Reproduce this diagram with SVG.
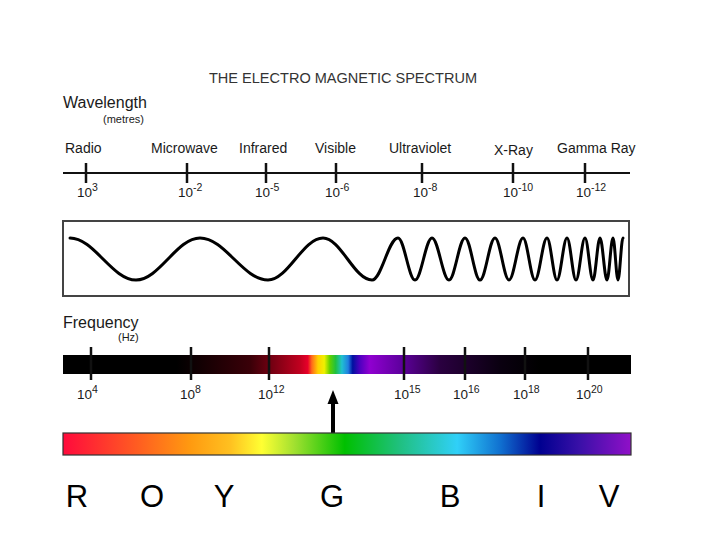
<svg xmlns="http://www.w3.org/2000/svg" width="720" height="540" viewBox="0 0 720 540">
<defs>
<style>
text{font-family:"Liberation Sans",Arial,sans-serif;fill:#1a1a1a}
.lbl{font-size:14px}
.val{font-size:13.5px}
.sup{font-size:10.5px}
.big{font-size:16px}
.small{font-size:11px}
.tick{stroke:#111;stroke-width:2.5}
.letter{font-size:31px;text-anchor:middle;fill:#000}
</style>
<linearGradient id="freqGrad" x1="63" y1="0" x2="631" y2="0" gradientUnits="userSpaceOnUse">
<stop offset="0" stop-color="#000"/>
<stop offset="0.2" stop-color="#000"/>
<stop offset="0.33" stop-color="#3a0008"/>
<stop offset="0.417" stop-color="#c0001f"/>
<stop offset="0.431" stop-color="#e8002a"/>
<stop offset="0.438" stop-color="#ff6a1a"/>
<stop offset="0.449" stop-color="#ffd000"/>
<stop offset="0.46" stop-color="#f0f000"/>
<stop offset="0.47" stop-color="#60d000"/>
<stop offset="0.48" stop-color="#20c040"/>
<stop offset="0.491" stop-color="#20c0d0"/>
<stop offset="0.502" stop-color="#2080e0"/>
<stop offset="0.51" stop-color="#0010a0"/>
<stop offset="0.523" stop-color="#5000c0"/>
<stop offset="0.54" stop-color="#9000d0"/>
<stop offset="0.593" stop-color="#6000a0"/>
<stop offset="0.664" stop-color="#2a0040"/>
<stop offset="0.77" stop-color="#0a0010"/>
<stop offset="0.84" stop-color="#000"/>
<stop offset="1" stop-color="#000"/>
</linearGradient>
<linearGradient id="rainbow" x1="63" y1="0" x2="631" y2="0" gradientUnits="userSpaceOnUse">
<stop offset="0" stop-color="#ff0a3c"/>
<stop offset="0.136" stop-color="#ff6020"/>
<stop offset="0.224" stop-color="#ff9a10"/>
<stop offset="0.294" stop-color="#ffc020"/>
<stop offset="0.35" stop-color="#ffff33"/>
<stop offset="0.408" stop-color="#a0e030"/>
<stop offset="0.496" stop-color="#00c000"/>
<stop offset="0.593" stop-color="#20c080"/>
<stop offset="0.694" stop-color="#30d0f8"/>
<stop offset="0.77" stop-color="#1070d0"/>
<stop offset="0.84" stop-color="#000090"/>
<stop offset="0.91" stop-color="#3a10a8"/>
<stop offset="1" stop-color="#9010c8"/>
</linearGradient>
</defs>
<rect width="720" height="540" fill="#fff"/>

<g id="title">
<text x="209" y="83" font-size="15" textLength="268" lengthAdjust="spacingAndGlyphs" style="fill:#333">THE ELECTRO MAGNETIC SPECTRUM</text>
</g>

<g id="wavelength-axis">
<text class="big" x="63" y="108">Wavelength</text>
<text class="small" x="103" y="123">(metres)</text>
<line x1="63" y1="173" x2="630" y2="173" stroke="#111" stroke-width="2"/>
<line class="tick" x1="86" y1="163" x2="86" y2="183"/>
<line class="tick" x1="187" y1="163" x2="187" y2="183"/>
<line class="tick" x1="266" y1="163" x2="266" y2="183"/>
<line class="tick" x1="336" y1="163" x2="336" y2="183"/>
<line class="tick" x1="422" y1="163" x2="422" y2="183"/>
<line class="tick" x1="513" y1="163" x2="513" y2="183"/>
<line class="tick" x1="585" y1="163" x2="585" y2="183"/>
<text class="lbl" x="65" y="153">Radio</text>
<text class="lbl" x="151" y="153">Microwave</text>
<text class="lbl" x="239" y="153">Infrared</text>
<text class="lbl" x="315" y="153">Visible</text>
<text class="lbl" x="389" y="153">Ultraviolet</text>
<text class="lbl" x="494" y="155">X-Ray</text>
<text class="lbl" x="557" y="153">Gamma Ray</text>
<text class="val" x="77" y="197">10<tspan class="sup" dy="-6">3</tspan></text>
<text class="val" x="178" y="197">10<tspan class="sup" dy="-6">-2</tspan></text>
<text class="val" x="255" y="197">10<tspan class="sup" dy="-6">-5</tspan></text>
<text class="val" x="325" y="197">10<tspan class="sup" dy="-6">-6</tspan></text>
<text class="val" x="413" y="197">10<tspan class="sup" dy="-6">-8</tspan></text>
<text class="val" x="503" y="197">10<tspan class="sup" dy="-6">-10</tspan></text>
<text class="val" x="576" y="197">10<tspan class="sup" dy="-6">-12</tspan></text>
</g>

<g id="wave-box">
<rect x="63" y="221" width="566" height="75" fill="#fff" stroke="#444" stroke-width="2"/>
<path fill="none" stroke="#000" stroke-width="3" stroke-linecap="round" d="M70,238 C94,238 112,280 136,280 C159.3,280 176.7,238 200,238 C224.8,238 243.2,280 268,280 C288,280 303,238 323,238 C340.8,238 354.2,280 372,280 C381.5,280 388.5,238 398,238 C404.2,238 408.8,280 415,280 C421.2,280 425.8,238 432,238 C438.2,238 442.8,280 449,280 C454.8,280 459.2,238 465,238 C470.5,238 474.5,280 480,280 C485.5,280 489.5,238 495,238 C500.1,238 503.9,280 509,280 C514.1,280 517.9,238 523,238 C527.4,238 530.6,280 535,280 C539.4,280 542.6,238 547,238 C550.6,238 553.4,280 557,280 C560.6,280 563.4,238 567,238 C570.3,238 572.7,280 576,280 C579.3,280 581.7,238 585,238 C587.9,238 590.1,280 593,280 C595.5,280 597.5,238 600,238 C602.5,238 604.5,280 607,280 C609.2,280 610.8,238 613,238 C614.8,238 616.2,280 618,280 C619.8,280 621.2,238 623,238"/>
</g>

<g id="frequency-bar">
<text class="big" x="63" y="328">Frequency</text>
<text class="small" x="118" y="341">(Hz)</text>
<rect x="63" y="355" width="568" height="19" fill="url(#freqGrad)"/>
<line class="tick" x1="91" y1="347" x2="91" y2="380"/>
<line class="tick" x1="191" y1="347" x2="191" y2="380"/>
<line class="tick" x1="269" y1="347" x2="269" y2="380"/>
<line class="tick" x1="404" y1="347" x2="404" y2="380"/>
<line class="tick" x1="465" y1="347" x2="465" y2="380"/>
<line class="tick" x1="525" y1="347" x2="525" y2="380"/>
<line class="tick" x1="588" y1="347" x2="588" y2="380"/>
<text class="val" x="77" y="399">10<tspan class="sup" dy="-6">4</tspan></text>
<text class="val" x="180" y="399">10<tspan class="sup" dy="-6">8</tspan></text>
<text class="val" x="258" y="399">10<tspan class="sup" dy="-6">12</tspan></text>
<text class="val" x="394" y="399">10<tspan class="sup" dy="-6">15</tspan></text>
<text class="val" x="453" y="399">10<tspan class="sup" dy="-6">16</tspan></text>
<text class="val" x="513" y="399">10<tspan class="sup" dy="-6">18</tspan></text>
<text class="val" x="576" y="399">10<tspan class="sup" dy="-6">20</tspan></text>
</g>

<g id="connectors">
<line x1="333" y1="433" x2="333" y2="401" stroke="#000" stroke-width="4"/>
<polygon points="333,390 327.5,404 338.5,404" fill="#000"/>
</g>

<g id="rainbow-bar">
<rect x="63" y="433" width="568" height="22" fill="url(#rainbow)" stroke="#333" stroke-width="1.2"/>
</g>

<g id="letters">
<text class="letter" x="77" y="507">R</text>
<text class="letter" x="152" y="507">O</text>
<text class="letter" x="224" y="507">Y</text>
<text class="letter" x="332" y="507">G</text>
<text class="letter" x="450" y="507">B</text>
<text class="letter" x="541" y="507">I</text>
<text class="letter" x="609" y="507">V</text>
</g>
</svg>
